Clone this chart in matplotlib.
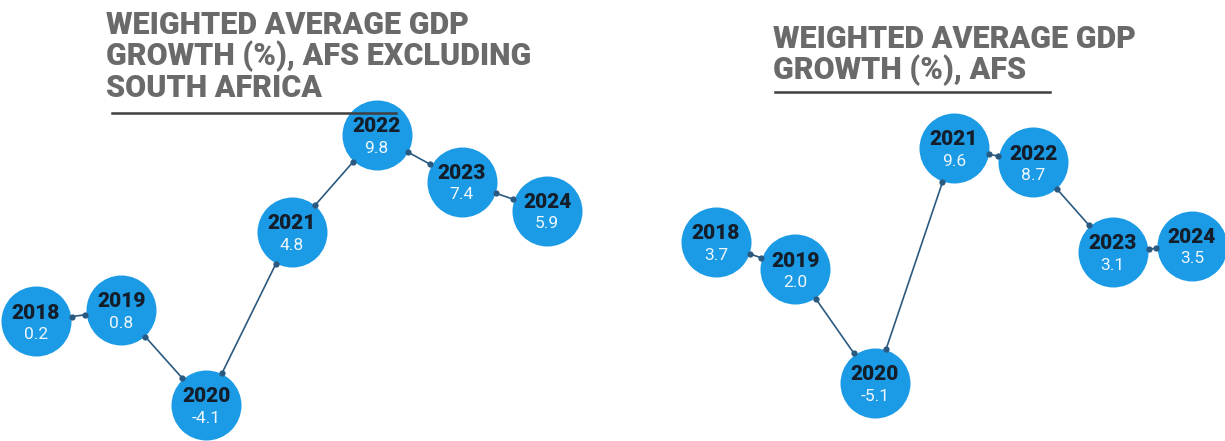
import matplotlib
matplotlib.use("Agg")
import matplotlib.pyplot as plt
from matplotlib.lines import Line2D
import numpy as np

# Weighted average GDP growth (%)
years = [2018, 2019, 2020, 2021, 2022, 2023, 2024]
growth_ex_sa = [0.2, 0.8, -4.1, 4.8, 9.8, 7.4, 5.9]
growth_afs = [3.7, 2.0, -5.1, 9.6, 8.7, 3.1, 3.5]
title_ex_sa = "WEIGHTED AVERAGE GDP\nGROWTH (%), AFS EXCLUDING\nSOUTH AFRICA"
title_afs = "WEIGHTED AVERAGE GDP\nGROWTH (%), AFS"

W, H, DPI = 1225, 441, 100
fig = plt.figure(figsize=(W / DPI, H / DPI), dpi=DPI)
fig.patch.set_facecolor("white")

BUBBLE = "#1b9ae6"
LINK = "#2b5a80"
YEAR_C = "#141e2a"
VAL_C = "#eef7fd"
TITLE_C = "#6a6a6a"
RULE_C = "#3f3f3f"
R_PX = 35  # bubble radius in pixels


def px_rect(x0, y0, x1, y1):
    """Axes rectangle from pixel box measured from the top-left corner."""
    return [x0 / W, 1 - y1 / H, (x1 - x0) / W, (y1 - y0) / H]


def draw_panel(rect, values, title, title_xy, rule):
    ax = fig.add_axes(rect)
    ax.set_xlim(years[0], years[-1])
    ax.set_ylim(min(values), max(values))
    ax.axis("off")

    r_pt = R_PX * 72 / DPI
    ax.scatter(years, values, s=(2 * r_pt) ** 2, color=BUBBLE,
               linewidths=0, zorder=3, clip_on=False)

    # connectors from bubble edge to bubble edge, with small dots at the ends
    pts = ax.transData.transform(np.column_stack([years, values]))
    inv = ax.transData.inverted()
    for p, q in zip(pts[:-1], pts[1:]):
        u = (q - p) / np.hypot(*(q - p))
        a = p + u * (R_PX + 1)
        b = q - u * (R_PX + 1)
        (ax_, ay_), (bx_, by_) = inv.transform([a, b])
        ax.plot([ax_, bx_], [ay_, by_], color=LINK, lw=1.2, zorder=2,
                clip_on=False, solid_capstyle="round")
        ax.plot([ax_, bx_], [ay_, by_], "o", ms=4.5, color=LINK, mew=0,
                zorder=4, clip_on=False)

    for x, v in zip(years, values):
        ax.annotate(str(x), (x, v), xytext=(0, 6), textcoords="offset points",
                    ha="center", va="center", fontsize=15, fontweight="black",
                    family="Roboto", color=YEAR_C, zorder=5)
        ax.annotate(f"{v:.1f}", (x, v), xytext=(0, -9.5), textcoords="offset points",
                    ha="center", va="center", fontsize=12.5, family="Roboto",
                    color=VAL_C, zorder=5)

    fig.text(title_xy[0] / W, 1 - title_xy[1] / H, title, ha="left", va="top",
             fontsize=22, fontweight="black", family="Roboto", color=TITLE_C,
             linespacing=1.02)
    x0, x1, y = rule
    fig.add_artist(Line2D([x0 / W, x1 / W], [1 - y / H] * 2, color=RULE_C, lw=1.8))


draw_panel(px_rect(36, 135, 547, 405), growth_ex_sa, title_ex_sa, (106, 10), (112, 396, 113))
draw_panel(px_rect(716, 148, 1192, 383), growth_afs, title_afs, (773, 24), (775, 1050, 92))

fig.savefig("out.png", dpi=DPI, facecolor="white")
